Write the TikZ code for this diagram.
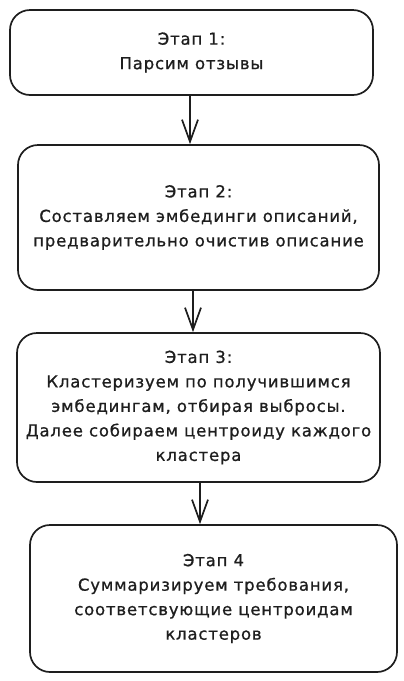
\documentclass[tikz,border=0pt]{standalone}
\usepackage{fontspec}
\setmainfont[LetterSpace=5,FakeBold=0.8]{DejaVu Sans}
\usetikzlibrary{arrows.meta}
\definecolor{ink}{HTML}{1E1E1E}
\tikzset{
  stage/.style={draw=ink, line width=1.7pt, rounded corners=20pt, align=center,
    text=ink, font=\fontsize{16.5}{24.5}\selectfont, inner sep=0pt},
  arr/.style={draw=ink, line width=1.7pt, -{Straight Barb[length=22pt,width=16pt,line width=1.7pt]}}
}
\begin{document}
\begin{tikzpicture}[x=1pt,y=-1pt]
\useasboundingbox (0,0) rectangle (404,681);
\node[stage, minimum width=363pt, minimum height=85pt] (b1) at (191.5,52.5)
  {Этап 1:\\Парсим отзывы};
\node[stage, minimum width=361pt, minimum height=145pt] (b2) at (198.5,217.5)
  {Этап 2:\\Составляем эмбединги описаний,\\предварительно очистив описание};
\node[stage, minimum width=363pt, minimum height=149pt] (b3) at (198.5,407.5)
  {Этап 3:\\Кластеризуем по получившимся\\эмбедингам, отбирая выбросы.\\Далее собираем центроиду каждого\\кластера};
\node[stage, minimum width=367pt, minimum height=147pt] (b4) at (213.5,598.5)
  {Этап 4\\Суммаризируем требования,\\соответсвующие центроидам\\кластеров};
\coordinate (x1) at (190,0);
\coordinate (x2) at (193,0);
\coordinate (x3) at (200,0);
\draw[arr] (b1.south -| x1) -- (b2.north -| x1);
\draw[arr] (b2.south -| x2) -- (b3.north -| x2);
\draw[arr] (b3.south -| x3) -- (b4.north -| x3);
\end{tikzpicture}
\end{document}
